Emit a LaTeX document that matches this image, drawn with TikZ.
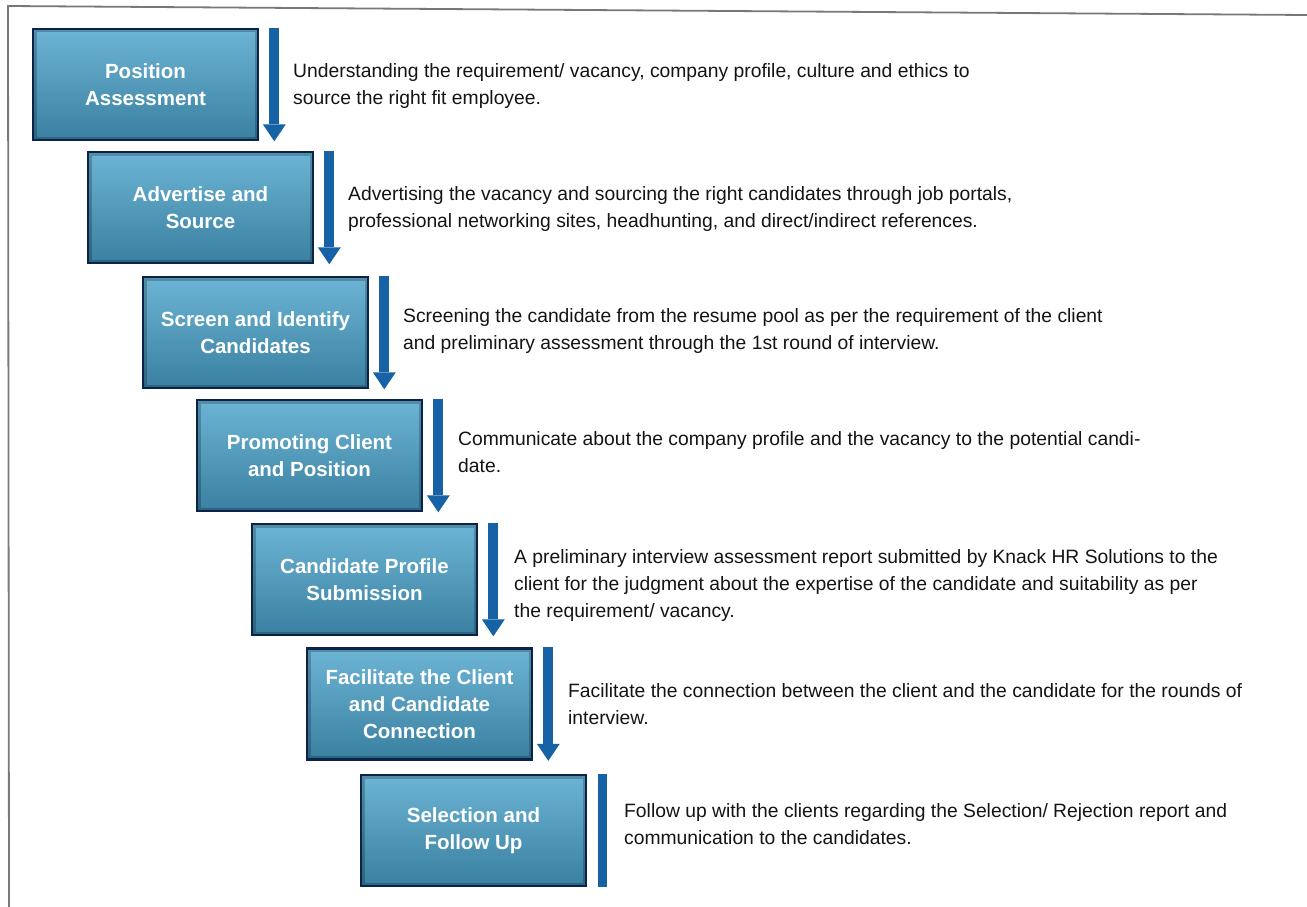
\documentclass[tikz,border=0pt]{standalone}
\usepackage{fontspec}
\setmainfont{Liberation Sans}
\usetikzlibrary{arrows.meta}
\definecolor{boxtop}{RGB}{108,180,213}
\definecolor{boxbot}{RGB}{58,128,160}
\definecolor{boxedge}{RGB}{10,35,75}
\definecolor{arrowc}{RGB}{22,98,165}
\definecolor{framec}{RGB}{120,120,120}
\definecolor{textc}{RGB}{20,20,20}
\tikzset{
  stepbox/.style={rectangle, minimum width=225pt, minimum height=111pt, inner sep=0pt,
    top color=boxtop, bottom color=boxbot, draw=boxedge, line width=2.6pt,
    text=white, align=center, font=\fontsize{20.5}{27}\selectfont\bfseries,
    path picture={\draw[line width=7pt, draw=black, opacity=0.22]
      (path picture bounding box.south west) rectangle (path picture bounding box.north east);}},
  downarrow/.style={draw=arrowc, line width=10pt,
    -{Triangle[width=23pt,length=17pt,line width=0pt]}},
  downbar/.style={draw=arrowc, line width=9pt},
  desc/.style={anchor=base west, inner sep=0pt, align=left, text=textc,
    font=\fontsize{19.3}{27}\selectfont},
  frameline/.style={draw=framec, line width=1.8pt}
}
\begin{document}
\begin{tikzpicture}[x=1pt,y=-1pt]
\useasboundingbox (0,0) rectangle (1307,907);
\fill[white] (0,0) rectangle (1307,907);
% frame
\coordinate (ftl) at (8,6);
\coordinate (ftr) at (1307,15);
\coordinate (fbl) at (9,907);
\draw[frameline] (ftr) -- (ftl) -- (fbl);
% boxes
\node[stepbox] (b1) at (145.5,84.5) {Position\\Assessment};
\node[stepbox] (b2) at (200.5,207.5) {Advertise and\\Source};
\node[stepbox] (b3) at (255.5,332.5) {Screen and Identify\\Candidates};
\node[stepbox] (b4) at (309.5,455.5) {Promoting Client\\and Position};
\node[stepbox] (b5) at (364.5,579.5) {Candidate Profile\\Submission};
\node[stepbox] (b6) at (419.5,704) {Facilitate the Client\\and Candidate\\Connection};
\node[stepbox] (b7) at (473.5,830.5) {Selection and\\Follow Up};
% arrows
\foreach \i in {1,...,6}{
  \coordinate (t\i) at ([xshift=15pt]b\i.north east);
  \coordinate (h\i) at ([xshift=15pt]b\i.south east);
  \draw[downarrow] (t\i) -- (h\i);
}
\coordinate (t7) at ([xshift=15pt]b7.north east);
\coordinate (h7) at ([xshift=15pt]b7.south east);
\draw[downbar] (t7) -- (h7);
% descriptions (anchor = baseline of last line)
\node[desc] (d1) at (293,104) {Understanding the requirement/ vacancy, company profile, culture and ethics to\\source the right fit employee.};
\node[desc] (d2) at (348,227) {Advertising the vacancy and sourcing the right candidates through job portals,\\professional networking sites, headhunting, and direct/indirect references.};
\node[desc] (d3) at (403,349) {Screening the candidate from the resume pool as per the requirement of the client\\and preliminary assessment through the 1st round of interview.};
\node[desc] (d4) at (458,472) {Communicate about the company profile and the vacancy to the potential candi-\\date.};
\node[desc] (d5) at (514,617) {A preliminary interview assessment report submitted by Knack HR Solutions to the\\client for the judgment about the expertise of the candidate and suitability as per\\the requirement/ vacancy.};
\node[desc] (d6) at (568,724) {Facilitate the connection between the client and the candidate for the rounds of\\interview.};
\node[desc] (d7) at (624,844) {Follow up with the clients regarding the Selection/ Rejection report and\\communication to the candidates.};
\end{tikzpicture}
\end{document}
